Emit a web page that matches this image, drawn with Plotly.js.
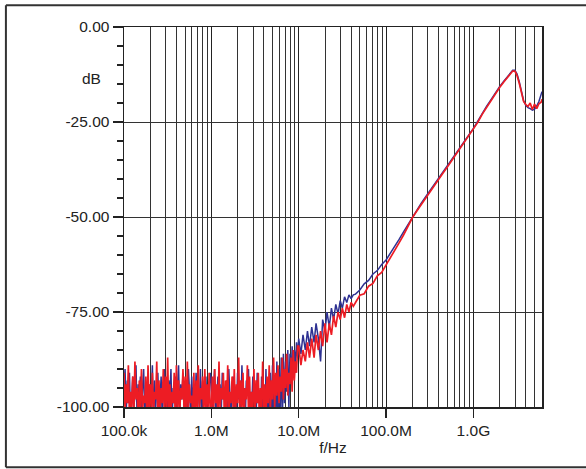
<!DOCTYPE html>
<html>
<head>
<meta charset="utf-8">
<script src="https://cdn.plot.ly/plotly-3.0.1.min.js"></script>
<style>html,body{margin:0;padding:0;background:#fff;overflow:hidden;}#chart{width:586px;height:469px;}</style>
</head>
<body>
<div id="chart"></div>
<script>
// Frequency grid in MHz (shared by both traces)
const freqMHz = [
 0.1,0.1029,0.1059,0.109,0.1122,0.1155,0.1189,0.1223,0.1259,0.1296,
 0.1334,0.1372,0.1413,0.1454,0.1496,0.154,0.1585,0.1631,0.1679,0.1728,
 0.1778,0.183,0.1884,0.1939,0.1995,0.2054,0.2113,0.2175,0.2239,0.2304,
 0.2371,0.2441,0.2512,0.2585,0.2661,0.2738,0.2818,0.2901,0.2985,0.3073,
 0.3162,0.3255,0.335,0.3447,0.3548,0.3652,0.3758,0.3868,0.3981,0.4097,
 0.4217,0.434,0.4467,0.4597,0.4732,0.487,0.5012,0.5158,0.5309,0.5464,
 0.5623,0.5788,0.5957,0.6131,0.631,0.6494,0.6683,0.6879,0.7079,0.7286,
 0.7499,0.7718,0.7943,0.8175,0.8414,0.866,0.8913,0.9173,0.9441,0.9716,
 1,1.029,1.059,1.09,1.122,1.155,1.189,1.223,1.259,1.296,
 1.334,1.372,1.413,1.454,1.496,1.54,1.585,1.631,1.679,1.728,
 1.778,1.83,1.884,1.939,1.995,2.054,2.113,2.175,2.239,2.304,
 2.371,2.441,2.512,2.585,2.661,2.738,2.818,2.901,2.985,3.073,
 3.162,3.255,3.35,3.447,3.548,3.652,3.758,3.868,3.981,4.097,
 4.217,4.34,4.467,4.597,4.732,4.87,5.012,5.158,5.309,5.464,
 5.623,5.788,5.957,6.131,6.31,6.494,6.683,6.879,7.079,7.286,
 7.499,7.718,7.943,8.175,8.414,8.66,8.913,9.173,9.441,9.716,
 10,10.6,11.2,11.9,12.6,13.3,14.1,15,15.8,16.8,17.8,18.8,20,21.1,22.4,23.7,25.1,26.6,28.2,29.9,31.6,33.5,35.5,37.6,39.8,42.2,
 44.7,50.1,56.2,63.1,70.8,79.4,89.1,
 100,112,126,141,158,178,200,224,251,282,316,355,398,447,501,562,631,708,794,891,
 1000,1122,1259,1413,1585,1778,1995,2239,
 2512,2661,2818,2985,3162,3350,3548,3758,3981,4217,4467,4732,5012,5309,5623,5957,6100
];

const blueDb = [
 -95,-90,-102,-93,-99,-91,-104,-96,-92,-100,-97,-89,-103,-94,-98,-92,-101,-95,-90,-103,
 -96,-99,-91,-102,-94,-97,-89,-104,-93,-100,-95,-91,-101,-98,-92,-103,-96,-90,-99,-94,
 -102,-93,-97,-90,-104,-95,-99,-92,-101,-96,-89,-103,-94,-98,-91,-100,-97,-93,-102,-90,
 -96,-101,-92,-99,-94,-104,-91,-97,-95,-100,-90,-103,-93,-98,-96,-92,-101,-94,-99,-91,
 -93,-101,-95,-90,-103,-97,-92,-99,-94,-102,-91,-98,-96,-104,-93,-100,-90,-97,-102,-95,
 -92,-100,-96,-103,-91,-98,-94,-101,-89,-99,-95,-104,-93,-97,-90,-102,-96,-100,-92,-98,
 -94,-103,-91,-99,-96,-106,-92,-101,-95,-108,-90,-104,-93,-107,-91,-105,-89,-103,-92,-106,
 -88,-104,-90,-101,-87,-105,-86,-99,-88,-96,-85,-100,-86,-93,-84,-90,-85,-89,-83,-87,
 -82,-86,-81,-85,-80,-84,-79,-83,-78,-82,-88,-77,-80,-75,-79,-74,-77,-73,-75.5,-72,-74,-71,-72.5,-70.5,-71.5,-70.5,
 -70.3,-69.2,-67.6,-66.7,-65.0,-64.1,-62.5,
 -61.3,-59.6,-57.9,-55.9,-54.0,-52.0,-50.0,-48.3,-46.5,-44.8,-43.2,-41.5,-39.9,-38.2,-36.6,-34.9,-33.3,-31.7,-30.0,-28.4,
 -26.7,-24.8,-22.7,-20.9,-19.2,-17.4,-15.7,-14.2,
 -12.8,-12.0,-11.4,-11.4,-12.4,-14.4,-17.2,-19.4,-20.6,-21.2,-21.5,-21.9,-21.6,-20.8,-19.6,-17.8,-17.0
];

const redDb = [
 -91,-101,-94,-99,-89,-103,-96,-100,-92,-102,-88,-98,-95,-104,-93,-100,-90,-101,-97,-99,
 -92,-103,-89,-101,-94,-100,-91,-102,-96,-98,-88,-104,-93,-101,-95,-99,-90,-102,-92,-100,
 -87,-103,-94,-101,-96,-99,-91,-104,-89,-100,-93,-102,-95,-98,-90,-101,-92,-103,-88,-100,
 -94,-99,-97,-102,-91,-104,-93,-100,-89,-101,-95,-98,-92,-103,-90,-101,-94,-100,-91,-102,
 -100,-92,-102,-90,-99,-94,-103,-88,-101,-95,-98,-91,-104,-93,-100,-89,-102,-96,-99,-92,
 -101,-90,-103,-94,-99,-87,-102,-93,-100,-91,-104,-95,-98,-89,-101,-92,-103,-96,-100,-90,
 -102,-93,-99,-91,-104,-95,-101,-88,-100,-94,-103,-92,-99,-89,-101,-93,-98,-87,-100,-91,
 -97,-89,-99,-92,-96,-87,-98,-90,-95,-86,-97,-91,-94,-87,-96,-85,-93,-88,-91,-84,
 -84,-89,-85,-88,-83,-87,-82,-87,-81,-85,-80,-84,-78,-83,-78,-81,-76,-79,-75,-77,-74,-76.5,-73,-75,-72.5,-73.5,
 -72.5,-70.6,-70.2,-68.2,-67.5,-65.5,-64.6,
 -62.7,-60.9,-58.9,-56.8,-54.8,-52.4,-50.2,-48.5,-46.8,-45.1,-43.5,-41.8,-40.2,-38.5,-36.9,-35.2,-33.6,-32.0,-30.3,-28.7,
 -27.0,-25.1,-23.0,-21.2,-19.5,-17.6,-15.9,-14.4,
 -13.0,-12.2,-11.6,-11.6,-12.8,-14.8,-17.6,-19.6,-20.4,-20.9,-20.0,-21.7,-20.3,-21.5,-20.2,-19.8,-19.0
];

const xTickValsHz = [1e5, 1e6, 1e7, 1e8, 1e9];
const xTickLabels = ["100.0k", "1.0M", "10.0M", "100.0M", "1.0G"];
const yTickVals = [0, -25, -50, -75, -100];
const yTickLabels = ["0.00", "-25.00", "-50.00", "-75.00", "-100.00"];
const minorMultipliers = [2, 3, 4, 5, 6, 7, 8, 9];
const decadesHz = [1e5, 1e6, 1e7, 1e8, 1e9];

const freqHz = freqMHz.map(f => f * 1e6);
const minorGridHz = [];
decadesHz.forEach(d => minorMultipliers.forEach(m => { if (d * m <= 6.1e9) minorGridHz.push(d * m); }));

const font = {family: "Liberation Sans, Arial, sans-serif", size: 15.5, color: "#222"};

const traces = [
  {x: freqHz, y: blueDb, type: "scatter", mode: "lines", line: {color: "#2e3192", width: 1.5}, hoverinfo: "skip"},
  {x: freqHz, y: redDb, type: "scatter", mode: "lines", line: {color: "#ed1c24", width: 1.7}, hoverinfo: "skip"}
];

const frameLine = {color: "#333", width: 2};
const layout = {
  width: 586, height: 469,
  margin: {l: 124, r: 44, t: 27, b: 62},
  paper_bgcolor: "#fff", plot_bgcolor: "#fff",
  showlegend: false,
  font: font,
  xaxis: {
    type: "log",
    range: [5, Math.log10(6.1e9)],
    tickmode: "array", tickvals: xTickValsHz, ticktext: xTickLabels,
    ticks: "outside", ticklen: 9, tickcolor: "#222", tickwidth: 1.5,
    showgrid: true, gridcolor: "#222", gridwidth: 1,
    showline: true, linecolor: "#222", linewidth: 1.5, mirror: true,
    zeroline: false,
    minor: {tickmode: "array", tickvals: minorGridHz, showgrid: true, gridcolor: "#333", gridwidth: 1, ticks: ""},
    title: {text: "f/Hz", font: font, standoff: 2},
    tickfont: font
  },
  yaxis: {
    range: [-100, 0],
    tickmode: "array", tickvals: yTickVals, ticktext: yTickLabels,
    ticks: "outside", ticklen: 10, tickcolor: "#222", tickwidth: 1.5,
    showgrid: true, gridcolor: "#333", gridwidth: 1,
    showline: true, linecolor: "#222", linewidth: 1.5, mirror: true,
    zeroline: false,
    minor: {dtick: 5, ticks: "outside", ticklen: 6, tickcolor: "#222", tickwidth: 1.5, showgrid: false},
    tickfont: font
  },
  annotations: [
    {text: "dB", xref: "paper", yref: "y", x: -0.05, y: -13.5, xanchor: "right", yanchor: "middle", showarrow: false, font: font}
  ],
  shapes: [
    {type: "line", xref: "paper", yref: "paper", x0: -0.2825, x1: -0.2825, y0: -0.1587, y1: 1.057, line: frameLine, layer: "below"},
    {type: "line", xref: "paper", yref: "paper", x0: -0.2825, x1: 1.11, y0: 1.057, y1: 1.057, line: frameLine, layer: "below"},
    {type: "line", xref: "paper", yref: "paper", x0: -0.2825, x1: 1.11, y0: -0.1587, y1: -0.1587, line: frameLine, layer: "below"}
  ]
};

Plotly.newPlot("chart", traces, layout, {staticPlot: true, displayModeBar: false});
</script>
</body>
</html>
